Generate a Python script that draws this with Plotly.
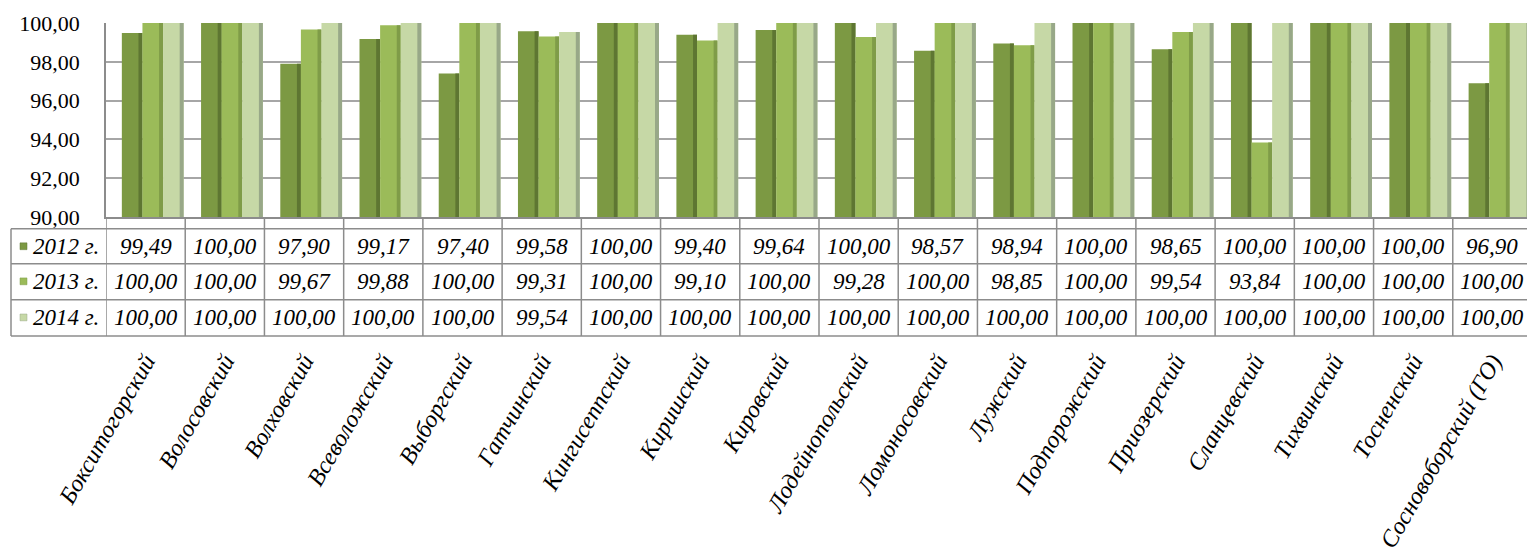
import plotly.graph_objects as go

categories = ["Бокситогорский", "Волосовский", "Волховский", "Всеволожский", "Выборгский",
              "Гатчинский", "Кингисеппский", "Киришский", "Кировский", "Лодейнопольский",
              "Ломоносовский", "Лужский", "Подпорожский", "Приозерский", "Сланцевский",
              "Тихвинский", "Тосненский", "Сосновоборский (ГО)"]
series_names = ["2012 г.", "2013 г.", "2014 г."]
v2012 = [99.49, 100.00, 97.90, 99.17, 97.40, 99.58, 100.00, 99.40, 99.64, 100.00,
         98.57, 98.94, 100.00, 98.65, 100.00, 100.00, 100.00, 96.90]
v2013 = [100.00, 100.00, 99.67, 99.88, 100.00, 99.31, 100.00, 99.10, 100.00, 99.28,
         100.00, 98.85, 100.00, 99.54, 93.84, 100.00, 100.00, 100.00]
v2014 = [100.00, 100.00, 100.00, 100.00, 100.00, 99.54, 100.00, 100.00, 100.00, 100.00,
         100.00, 100.00, 100.00, 100.00, 100.00, 100.00, 100.00, 100.00]
y_ticks = [90, 92, 94, 96, 98, 100]

series = [v2012, v2013, v2014]
colors = ["#7C9943", "#9BBB59", "#C6D8A6"]
side_colors = ["#5E7632", "#7F9C48", "#98A888"]
offsets = [-0.30, -0.04, 0.22]
bw = 0.26
sw = 0.05

OFF = 8  # page body margin
W, H = 1535 - OFF, 558 - OFF
# target screen pixels
SX0, SX1 = 106, 1532   # plot area left/right
SY0, SY1 = 18, 217     # plot area top/bottom
L = SX0 - OFF
R = W - (SX1 - OFF)
T = SY0 - OFF
B = H - (SY1 - OFF)
pw = SX1 - SX0
ph = SY1 - SY0


def px_x(p):
    return (p - SX0) / pw


def px_y(p):
    return (SY1 - p) / ph


fig = go.Figure()
idx = list(range(len(categories)))
for s, vals in enumerate(series):
    fig.add_trace(go.Bar(x=idx, y=vals, name=series_names[s], width=bw, offset=offsets[s],
                         marker=dict(color=colors[s], line=dict(width=0)),
                         showlegend=False))
    fig.add_trace(go.Bar(x=idx, y=vals, width=sw, offset=offsets[s] + bw - sw,
                         marker=dict(color=side_colors[s], line=dict(width=0)),
                         showlegend=False, hoverinfo="skip"))

font_serif = "Liberation Serif"
shapes = []
annotations = []
line_col = "#8C8C8C"
row_lines = [229, 265, 302, 339]
row_centers = [247, 283, 320]
for yp in row_lines:
    shapes.append(dict(type="line", xref="paper", yref="paper", x0=px_x(11), x1=1,
                       y0=px_y(yp), y1=px_y(yp), line=dict(color=line_col, width=1.5)))
for i in range(len(categories) + 1):
    shapes.append(dict(type="line", xref="x", yref="paper", x0=i - 0.5, x1=i - 0.5,
                       y0=px_y(SY1), y1=px_y(339), line=dict(color=line_col, width=1.5)))
shapes.append(dict(type="line", xref="paper", yref="paper", x0=px_x(11), x1=px_x(11),
                   y0=px_y(229), y1=px_y(339), line=dict(color=line_col, width=1.5)))

for s, vals in enumerate(series):
    yc = px_y(row_centers[s])
    shapes.append(dict(type="rect", xref="paper", yref="paper",
                       x0=px_x(20), x1=px_x(27), y0=yc - 3.5 / ph, y1=yc + 3.5 / ph,
                       fillcolor=colors[s], line=dict(color=side_colors[s], width=0.5)))
    annotations.append(dict(text=series_names[s], xref="paper", yref="paper",
                            x=px_x(31), y=yc, xanchor="left", yanchor="middle",
                            showarrow=False,
                            font=dict(family=font_serif, size=23, color="#000000", style="italic")))
    for i, v in enumerate(vals):
        annotations.append(dict(text=f"{v:.2f}".replace(".", ","), xref="x", yref="paper",
                                x=i, y=yc, xanchor="center", yanchor="middle",
                                showarrow=False,
                                font=dict(family=font_serif, size=23, color="#000000", style="italic")))

fig.update_layout(
    width=W, height=H,
    margin=dict(l=L, r=R, t=T, b=B, pad=0),
    paper_bgcolor="white", plot_bgcolor="white",
    separators=", ",
    barmode="overlay",
    shapes=shapes, annotations=annotations,
)
fig.update_xaxes(
    range=[-0.5, len(categories) - 0.5],
    tickmode="array", tickvals=idx, ticktext=categories,
    tickangle=-60, ticks="", ticklabelstandoff=119,
    tickfont=dict(family=font_serif, size=24, color="#000000", style="italic"),
    showline=True, linecolor=line_col, linewidth=1.5,
    showgrid=False, zeroline=False, ticklabeloverflow="allow",
)
fig.update_yaxes(
    range=[90, 100], tickvals=y_ticks, tickformat=".2f",
    ticks="", ticklabelstandoff=20, ticklabeloverflow="allow",
    tickfont=dict(family=font_serif, size=22, color="#000000"),
    showgrid=True, gridcolor="#A6A6A6", gridwidth=1.5,
    showline=True, linecolor=line_col, linewidth=1.5,
    zeroline=False,
)

fig.write_html("out.html")
